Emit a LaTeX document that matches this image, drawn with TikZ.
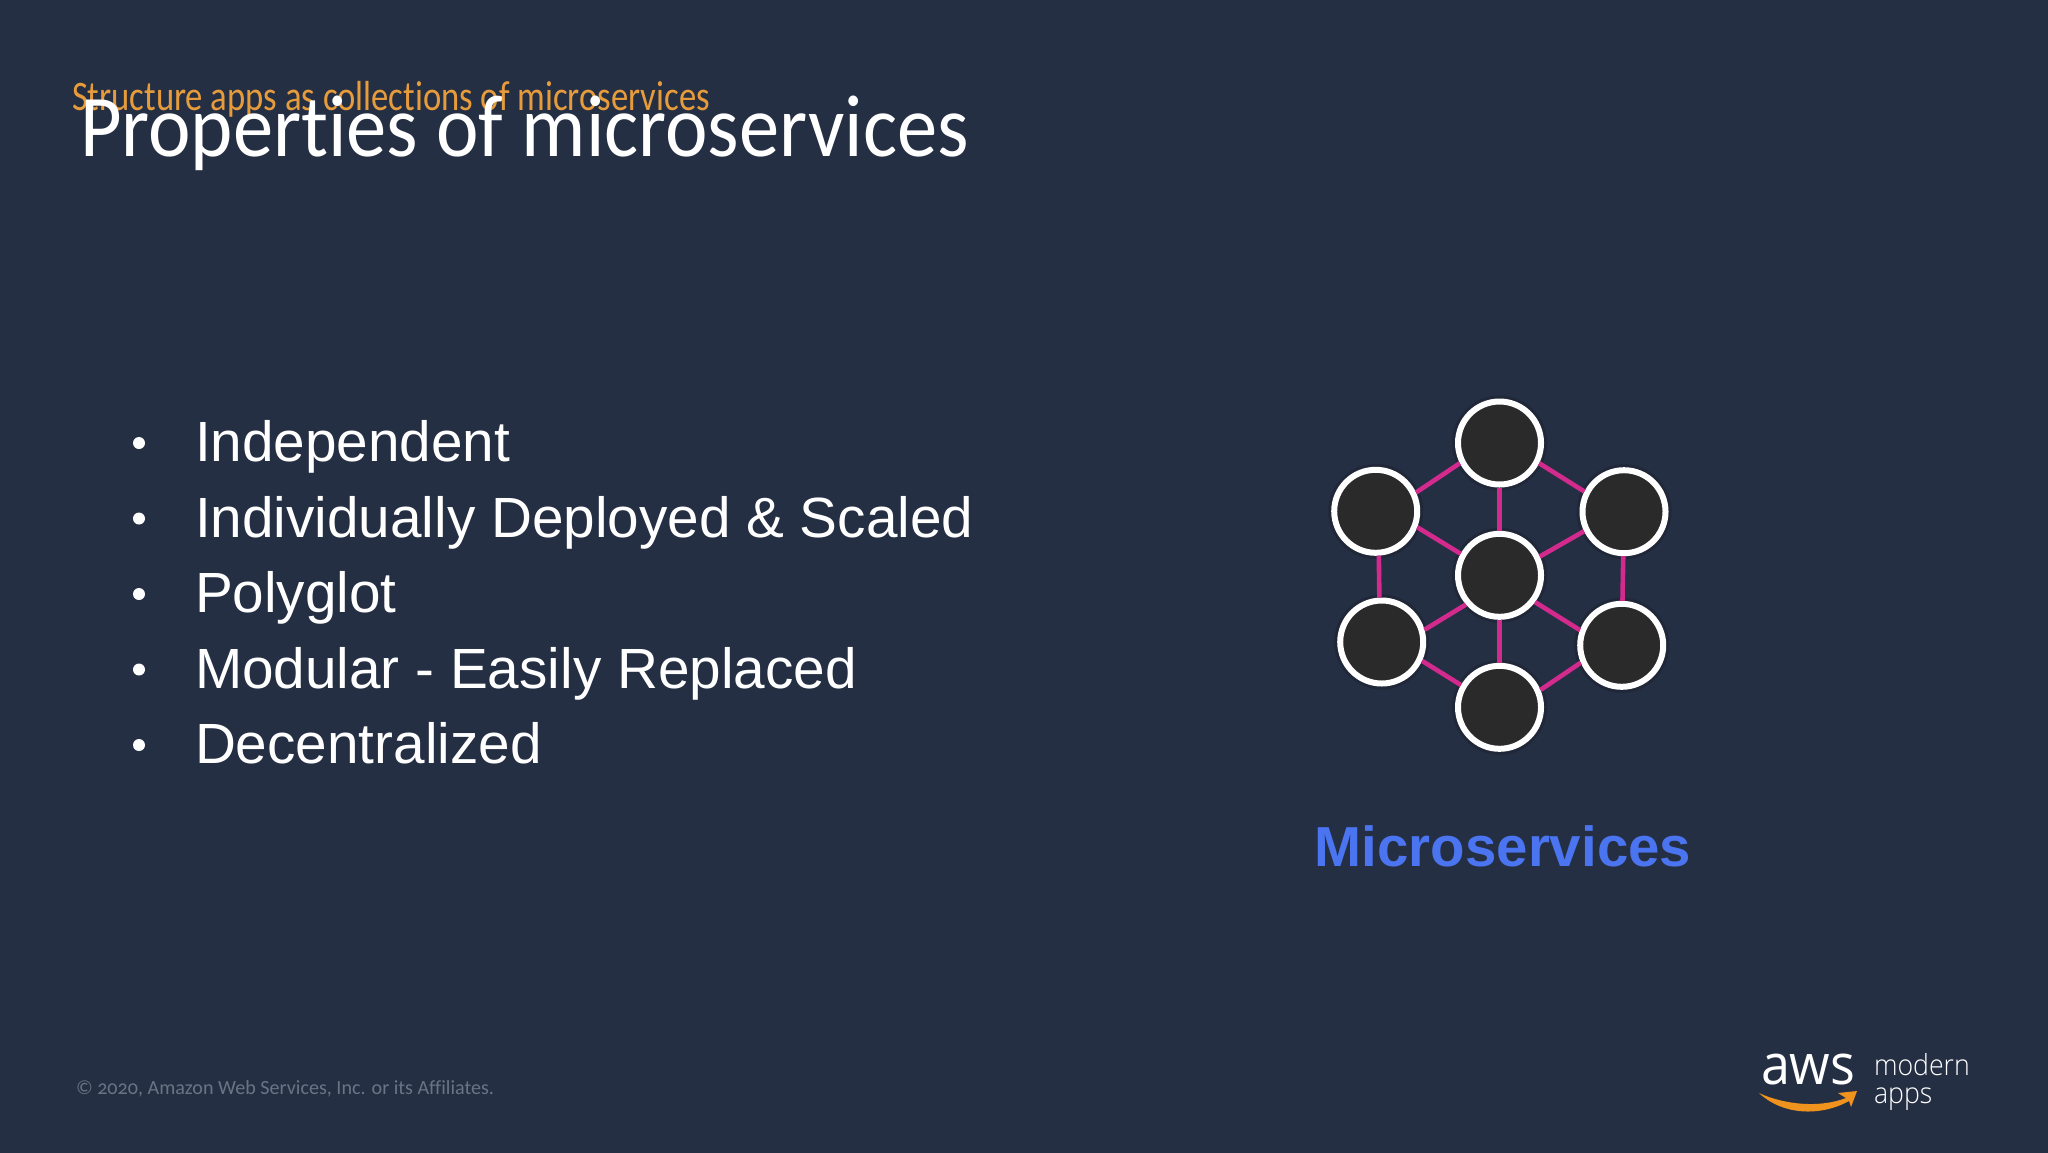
\documentclass[tikz,border=0pt]{standalone}
\usepackage{fontspec}
\setmainfont{Liberation Sans}
\newfontfamily\carl[Numbers=OldStyle,Ligatures=NoCommon]{Carlito}
\newfontfamily\opens{Open Sans}
\newfontfamily\opensl{Open Sans Light}
\definecolor{bgc}{HTML}{252F43}
\definecolor{ringfill}{HTML}{2A2A2B}
\definecolor{linkc}{HTML}{D32A8E}
\definecolor{subc}{HTML}{E79C3C}
\definecolor{bluec}{HTML}{4B74F0}
\definecolor{copyc}{HTML}{6B7485}
\definecolor{smilec}{HTML}{F0921E}
\tikzset{
  txt/.style={anchor=base west,inner sep=0pt,outer sep=0pt},
  svc/.style={circle,draw=white,fill=ringfill,line width=3pt,minimum size=41.5pt,inner sep=0pt,
    preaction={draw=black,draw opacity=.16,line width=6pt}},
  lnk/.style={draw=linkc,line width=2.3pt},
  item/.style={txt,text=white,font=\fontsize{28.35}{29}\selectfont},
  dot/.style={circle,fill=white,inner sep=0pt,minimum size=6pt}
}
\begin{document}
\begin{tikzpicture}[x=.5pt,y=-.5pt]
\useasboundingbox (0,0) rectangle (2048,1152);
\fill[bgc] (-8,-8) rectangle (2056,1160);
\node[txt,text=subc,font=\carl\fontsize{21}{21}\selectfont] (sub) at (72,110) {\scalebox{.825}[1]{Structure apps as collections of microservices}};
\node[txt,text=white,font=\carl\fontsize{44}{44}\selectfont] (title) at (80,156) {\scalebox{.915}[1]{Properties of microservices}};
\foreach \n/\t/\y in {a/Independent/464,b/Individually Deployed \& Scaled/539.5,c/Polyglot/615,d/Modular - Easily Replaced/690.5,e/Decentralized/766}{
  \node[item] (\n) at (195,\y-2.5) {\t};
  \node[dot] (dot\n) at (139,\y-21) {};
}
\node[svc] (top) at (1499.5,443) {};
\node[svc] (ul) at (1375.7,511.3) {};
\node[svc] (ur) at (1624,511.7) {};
\node[svc] (mid) at (1499.5,575.3) {};
\node[svc] (ll) at (1381.7,642) {};
\node[svc] (lr) at (1621.7,645.3) {};
\node[svc] (bot) at (1499.5,707.3) {};
\draw[lnk] (top.207) -- (ul.25);
\draw[lnk] (top.333) -- (ur.153);
\draw[lnk] (top) -- (mid);
\draw[lnk] (ul.-21) -- (mid.151);
\draw[lnk] (ur.206) -- (mid.25);
\draw[lnk] (ul.-86.6) -- (ll.93);
\draw[lnk] (ur.-91) -- (lr.89);
\draw[lnk] (ll.16) -- (mid.221);
\draw[lnk] (lr.160) -- (mid.-37);
\draw[lnk] (bot) -- (mid);
\draw[lnk] (ll.-25) -- (bot.150);
\draw[lnk] (lr.203) -- (bot.23);
\node[anchor=base,inner sep=0pt,text=bluec,font=\bfseries\fontsize{28.2}{28}\selectfont] (cap) at (1503,866) {Microservices};
\node[txt,text=copyc,font=\carl\fontsize{10.05}{10.5}\selectfont] (copy) at (76,1094) {© 2020, Amazon Web Services, Inc. or its Affiliates.};
\node[txt,text=white,font=\opens\fontsize{28}{28}\selectfont] (aws) at (1761,1084) {\scalebox{.93}[1]{aws}};
\node[txt,text=white,font=\opensl\fontsize{14.5}{14.5}\selectfont] (modern) at (1874,1075) {\scalebox{.92}[1]{modern}};
\node[txt,text=white,font=\opensl\fontsize{14.5}{14.5}\selectfont] (apps) at (1874,1103) {\scalebox{.92}[1]{apps}};
\fill[smilec] (1759,1093) .. controls (1785,1105) and (1820,1108) .. (1846,1098) -- (1838,1093) -- (1857,1091) -- (1851,1107) -- (1849,1101) .. controls (1820,1117) and (1782,1115) .. (1759,1093) -- cycle;
\end{tikzpicture}
\end{document}
